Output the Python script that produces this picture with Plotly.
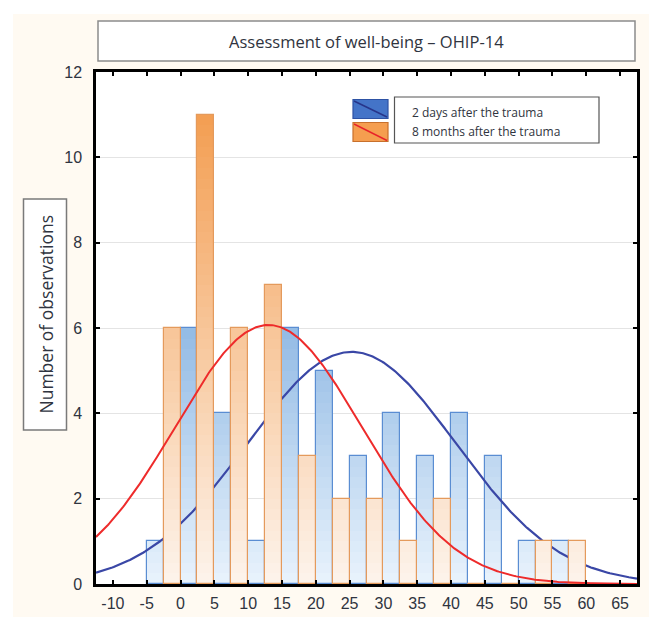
import numpy as np
import plotly.graph_objects as go

# ---- data -----------------------------------------------------------------
bin_centers = [-2.5, 2.5, 7.5, 12.5, 17.5, 22.5, 27.5, 32.5, 37.5, 42.5, 47.5, 52.5, 57.5]
bin_width = 5
days2_counts = [1, 6, 4, 1, 6, 5, 3, 4, 3, 4, 3, 1, 1]
months8_counts = [6, 11, 6, 7, 3, 2, 2, 1, 2, 0, 0, 1, 1]

# fitted normal curves (mean, standard deviation, number of observations)
days2_fit = dict(mean=25.3, sd=15.4, n=42)
months8_fit = dict(mean=13.0, sd=13.8, n=42)

x_tick_vals = [-10, -5, 0, 5, 10, 15, 20, 25, 30, 35, 40, 45, 50, 55, 60, 65]
x_tick_text = ["-10", "-5", "0", "5", "10", "15", "20", "25", "30", "35", "40", "45",
               "50", "55", "60", "65"]
y_tick_vals = [0, 2, 4, 6, 8, 10, 12]

title_text = "Assessment of well-being \u2013 OHIP-14"
y_title_text = "Number of observations"
series_names = ["2 days after the trauma", "8 months after the trauma"]

# ---- layout geometry ---------------------------------------------------------
W, H = 649, 617
ML, MR, MT, MB = 96, 12, 72, 33
PW, PH = W - ML - MR, H - MT - MB
X_RANGE = [-12.5, 67.5]
Y_RANGE = [0, 12]


def px(x):
    return (x - ML) / PW


def py(y):
    return (H - MB - y) / PH


TEXT = "#2f3440"
FONT_TXT = "'Open Sans', Lato, sans-serif"
FONT_NUM = "'Liberation Sans', Arial, sans-serif"

# gradient ends (value 0 -> value 12)
BLUE_LO, BLUE_HI = (233, 243, 252), (60, 130, 206)
ORANGE_LO, ORANGE_HI = (253, 244, 236), (242, 150, 68)


def mix(lo, hi, t):
    t = min(max(t, 0.0), 1.0)
    return "rgb({},{},{})".format(*[round(a + (b - a) * t) for a, b in zip(lo, hi)])


def gradient_bars(counts, offset, lo, hi, edge, xa, ya, step=0.25):
    """Bars filled with a vertical gradient tied to the value axis:
    each bar is built from thin horizontal bands stacked from zero."""
    vals = np.asarray(counts, dtype=float)
    traces = []
    n_bands = int(np.ceil(vals.max() / step))
    for k in range(n_bands):
        base = k * step
        h = np.clip(vals - base, 0, step)
        traces.append(go.Bar(
            x=bin_centers, y=h, base=base, width=bin_width / 2, offset=offset,
            marker=dict(color=mix(lo, hi, (base + step / 2) / Y_RANGE[1]), line=dict(width=0)),
            xaxis=xa, yaxis=ya, showlegend=False, hoverinfo="skip",
        ))
    # outline of each bar
    traces.append(go.Bar(
        x=bin_centers, y=counts, width=bin_width / 2, offset=offset,
        marker=dict(color="rgba(0,0,0,0)", line=dict(color=edge, width=1.2)),
        xaxis=xa, yaxis=ya, showlegend=False, hoverinfo="x+y",
    ))
    return traces


def normal_curve(fit):
    xs = np.linspace(X_RANGE[0], X_RANGE[1], 400)
    ys = fit["n"] * bin_width * np.exp(-0.5 * ((xs - fit["mean"]) / fit["sd"]) ** 2) / (
        fit["sd"] * np.sqrt(2 * np.pi))
    return xs, ys


fig = go.Figure()

# 2 days after the trauma: bars, then its normal curve
for t in gradient_bars(days2_counts, -bin_width / 2, BLUE_LO, BLUE_HI, "#5a8dd2", "x", "y"):
    fig.add_trace(t)
bx, by = normal_curve(days2_fit)
fig.add_trace(go.Scatter(x=bx, y=by, mode="lines", line=dict(color="#3a47a6", width=2.2),
                         xaxis="x", yaxis="y", showlegend=False, hoverinfo="skip"))

# 8 months after the trauma: drawn on an overlaid subplot so it sits on top
for t in gradient_bars(months8_counts, 0, ORANGE_LO, ORANGE_HI, "#e49a5c", "x2", "y2"):
    fig.add_trace(t)
rx, ry = normal_curve(months8_fit)
fig.add_trace(go.Scatter(x=rx, y=ry, mode="lines", line=dict(color="#ee2b2b", width=2),
                         xaxis="x2", yaxis="y2", showlegend=False, hoverinfo="skip"))

axis_common = dict(showline=True, linecolor="black", linewidth=2.5, mirror="ticks",
                   ticks="inside", ticklen=4, tickwidth=2, tickcolor="black",
                   zeroline=False, fixedrange=True, automargin=False)

fig.update_layout(
    width=W, height=H, autosize=False,
    margin=dict(l=ML, r=MR, t=MT, b=MB, pad=0),
    paper_bgcolor="#fffaf2", plot_bgcolor="white",
    barmode="overlay", bargap=0,
    showlegend=False,
    xaxis=dict(range=X_RANGE, tickvals=x_tick_vals, ticktext=x_tick_text, showgrid=False,
               tickfont=dict(family=FONT_NUM, size=16, color=TEXT), ticklabelstandoff=3,
               **axis_common),
    yaxis=dict(range=Y_RANGE, tickvals=y_tick_vals, showgrid=True, gridcolor="#e4e4e4",
               gridwidth=1, tickfont=dict(family=FONT_NUM, size=16, color=TEXT),
               ticklabelstandoff=8, **axis_common),
    xaxis2=dict(range=X_RANGE, overlaying="x", visible=False, fixedrange=True,
                automargin=False),
    yaxis2=dict(range=Y_RANGE, overlaying="y", visible=False, fixedrange=True,
                automargin=False),
)

shapes = [
    # white page strips above and left of the cream panel
    dict(type="rect", xref="paper", yref="paper", layer="below",
         x0=px(-2), x1=px(W + 2), y0=py(14), y1=py(-2),
         fillcolor="white", line=dict(width=0)),
    dict(type="rect", xref="paper", yref="paper", layer="below",
         x0=px(-2), x1=px(13), y0=py(H + 2), y1=py(-2),
         fillcolor="white", line=dict(width=0)),
    # title frame
    dict(type="rect", xref="paper", yref="paper", layer="below",
         x0=px(98), x1=px(635), y0=py(61), y1=py(21),
         fillcolor="white", line=dict(color="#8c8c8c", width=1.5)),
    # y-axis title frame
    dict(type="rect", xref="paper", yref="paper", layer="below",
         x0=px(23.5), x1=px(66.5), y0=py(430), y1=py(199),
         fillcolor="white", line=dict(color="#7a7a7a", width=1.5)),
    # legend text frame
    dict(type="rect", xref="paper", yref="paper",
         x0=px(394.5), x1=px(599), y0=py(143), y1=py(97),
         fillcolor="white", line=dict(color="#555555", width=1.2)),
    # legend swatches: bar colour with the curve drawn across
    dict(type="rect", xref="paper", yref="paper",
         x0=px(353), x1=px(388), y0=py(118.5), y1=py(99.5),
         fillcolor="#4474c8", line=dict(color="#2d52a4", width=1.2)),
    dict(type="line", xref="paper", yref="paper",
         x0=px(354), x1=px(387), y0=py(101), y1=py(117),
         line=dict(color="#27358a", width=1.5)),
    dict(type="rect", xref="paper", yref="paper",
         x0=px(353), x1=px(388), y0=py(141.5), y1=py(122.5),
         fillcolor="#f59e4f", line=dict(color="#c8702c", width=1.2)),
    dict(type="line", xref="paper", yref="paper",
         x0=px(354), x1=px(387), y0=py(124), y1=py(140.5),
         line=dict(color="#e8242a", width=1.5)),
]

annotations = [
    dict(text=title_text, xref="paper", yref="paper", x=px(366.5), y=py(41.5),
         xanchor="center", yanchor="middle", showarrow=False,
         font=dict(family=FONT_TXT, size=16.5, color=TEXT)),
    dict(text=y_title_text, xref="paper", yref="paper", x=px(45), y=py(314.5),
         xanchor="center", yanchor="middle", showarrow=False, textangle=-90,
         font=dict(family=FONT_TXT, size=17.5, color=TEXT)),
    dict(text=series_names[0], xref="paper", yref="paper", x=px(410), y=py(112.5),
         xanchor="left", yanchor="middle", showarrow=False,
         font=dict(family=FONT_TXT, size=12, color=TEXT)),
    dict(text=series_names[1], xref="paper", yref="paper", x=px(410), y=py(131.5),
         xanchor="left", yanchor="middle", showarrow=False,
         font=dict(family=FONT_TXT, size=12, color=TEXT)),
]

fig.update_layout(shapes=shapes, annotations=annotations)

fig.write_html("out.html")
